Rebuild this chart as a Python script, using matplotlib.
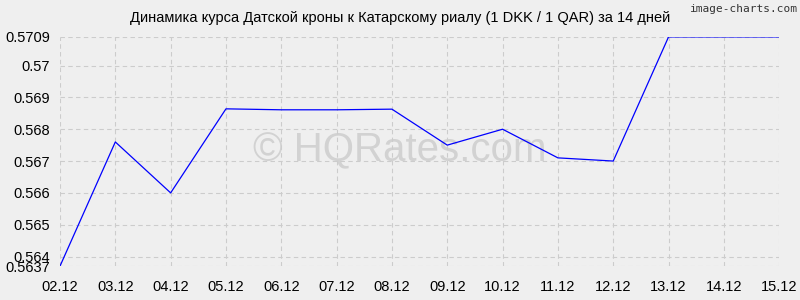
"""Динамика курса DKK/QAR за 14 дней"""
import matplotlib
matplotlib.use("Agg")
import matplotlib.pyplot as plt

plt.rcParams["font.family"] = ["Liberation Sans", "DejaVu Sans"]

dates = ["02.12", "03.12", "04.12", "05.12", "06.12", "07.12", "08.12",
         "09.12", "10.12", "11.12", "12.12", "13.12", "14.12", "15.12"]
rates = [0.5637, 0.5676, 0.5660, 0.56864, 0.56861, 0.56861, 0.56863,
         0.5675, 0.5680, 0.5671, 0.5670, 0.5709, 0.5709, 0.5709]
y_ticks = [0.5637, 0.564, 0.565, 0.566, 0.567, 0.568, 0.569, 0.570, 0.5709]
y_labels = ["0.5637", "0.564", "0.565", "0.566", "0.567", "0.568", "0.569", "0.57", "0.5709"]

bg = "#efefef"
fig = plt.figure(figsize=(8, 3), dpi=100, facecolor=bg)
ax = fig.add_axes([0.075, 0.113, 0.899, 0.764], facecolor=bg)

x = list(range(len(dates)))
ax.plot(x, rates, color="#0000ff", linewidth=0.9, zorder=3)

ax.set_xlim(0, len(dates) - 1)
ax.set_ylim(min(y_ticks), max(y_ticks))
ax.set_xticks(x)
ax.set_xticklabels(dates)
ax.set_yticks(y_ticks)
ax.set_yticklabels(y_labels)
ax.tick_params(length=0, labelsize=10.5, colors="#000000")
ax.tick_params(axis="x", pad=10)
ax.tick_params(axis="y", pad=7)
ax.grid(True, color="#cccccc", linestyle=(0, (4, 3)), linewidth=0.8)
for s in ax.spines.values():
    s.set_visible(False)

# watermark, centred on the figure but kept under the line
ax.text(0.5, 0.5, "© HQRates.com", transform=fig.transFigure, ha="center", va="center",
        fontsize=29, color="#d2d2d2", zorder=1)
fig.text(0.5, 0.94, "Динамика курса Датской кроны к Катарскому риалу (1 DKK / 1 QAR) за 14 дней",
         ha="center", va="center", fontsize=10.5)
fig.text(0.997, 0.985, "image-charts.com", ha="right", va="top", fontsize=8,
         family="DejaVu Sans Mono", color="#333333")

plt.savefig("out.png", dpi=100, facecolor=bg)
